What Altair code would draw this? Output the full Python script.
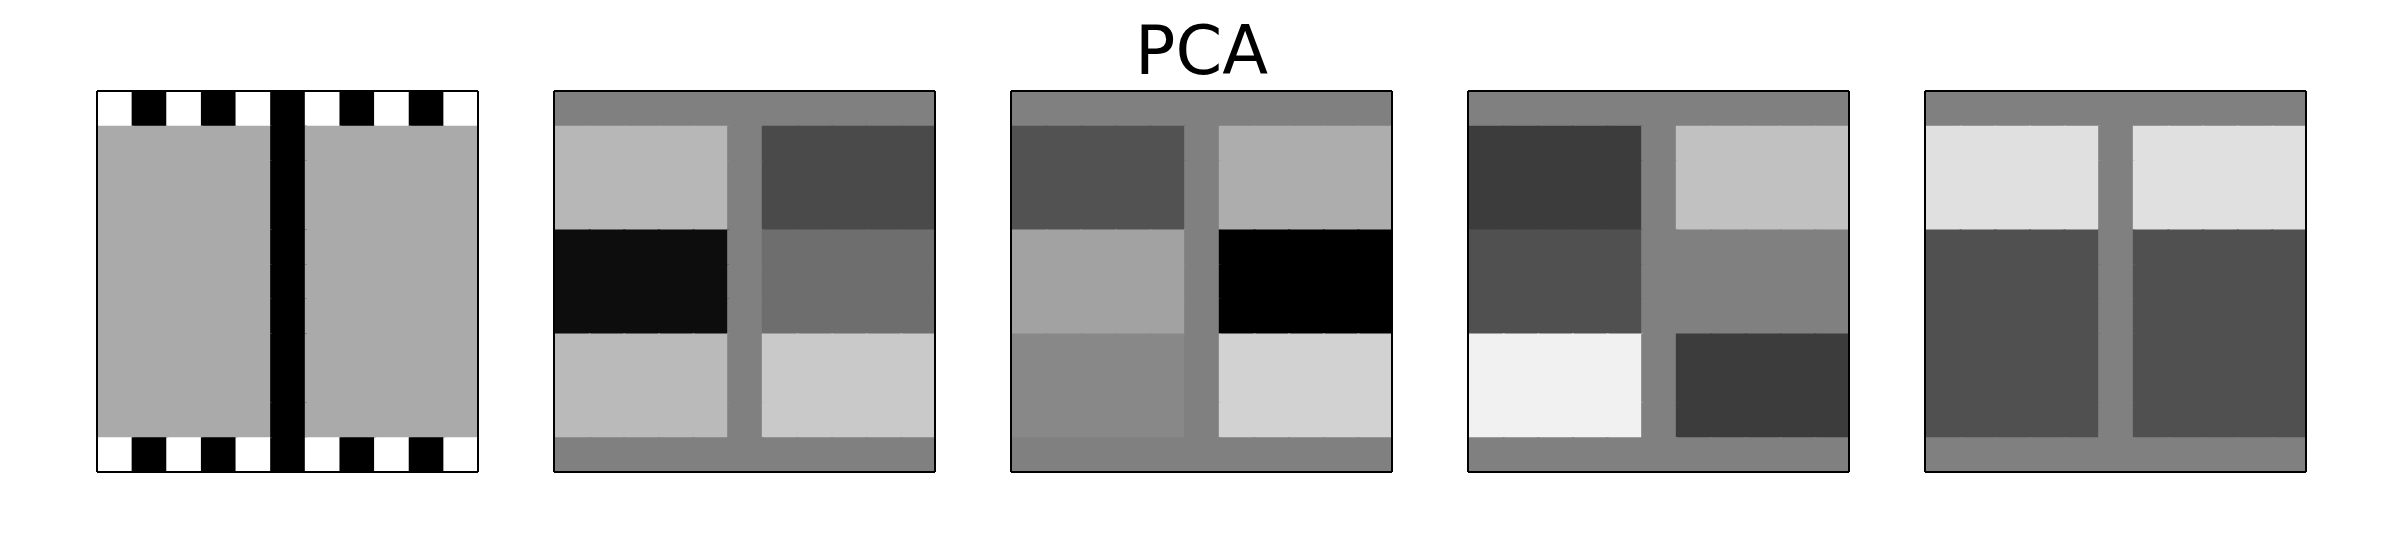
import altair as alt
import pandas as pd

# 11x11 grey-level images (0 = black, 255 = white), rows top to bottom
G = 128
stripe = [255, 0, 255, 0, 255, 0, 255, 0, 255, 0, 255]
mid1 = [170, 170, 170, 170, 170, 0, 170, 170, 170, 170, 170]
img1 = [stripe] + [mid1] * 9 + [stripe]

def blocks(left, right):
    # left/right: three grey levels for row bands 1-3, 4-6, 7-9
    rows = [[G] * 11]
    for band in range(3):
        for _ in range(3):
            rows.append([left[band]] * 5 + [G] + [right[band]] * 5)
    rows.append([G] * 11)
    return rows

img2_left = [183, 13, 186]
img2_right = [74, 110, 201]
img3_left = [82, 162, 136]
img3_right = [173, 0, 210]
img4_left = [60, 80, 241]
img4_right = [193, 128, 60]
img5_left = [224, 80, 80]
img5_right = [224, 80, 80]

images = [
    img1,
    blocks(img2_left, img2_right),
    blocks(img3_left, img3_right),
    blocks(img4_left, img4_right),
    blocks(img5_left, img5_right),
]

SIZE = 381
N = 11
gray = alt.Scale(domain=[0, 255], range=["#000000", "#ffffff"], interpolate="rgb")
xs = alt.Scale(domain=[0, N], nice=False, zero=False)
ys = alt.Scale(domain=[0, N], nice=False, zero=False, reverse=True)

panels = []
for k, img in enumerate(images):
    recs = [
        {"row": r, "col": c, "v": img[r][c]}
        for r in range(N)
        for c in range(N)
    ]
    df = pd.DataFrame(recs)
    cells = (
        alt.Chart(df)
        .transform_calculate(
            col2=f"min(datum.col + 1.06, {N})",
            row2=f"min(datum.row + 1.06, {N})",
        )
        .mark_rect(strokeWidth=0)
        .encode(
            x=alt.X("col:Q", axis=None, scale=xs),
            x2="col2:Q",
            y=alt.Y("row:Q", axis=None, scale=ys),
            y2="row2:Q",
            fill=alt.Fill("v:Q", scale=gray, legend=None),
        )
    )
    frame = alt.Chart(df).mark_rect(filled=False, stroke="black", strokeWidth=1).encode(
        x=alt.value(0), x2=alt.value(SIZE), y=alt.value(0), y2=alt.value(SIZE)
    )
    panels.append(alt.layer(cells, frame).properties(width=SIZE, height=SIZE))

chart = (
    alt.hconcat(*panels, spacing=74)
    .properties(
        title=alt.TitleParams(
            "PCA",
            fontSize=67,
            font="DejaVu Sans",
            fontWeight="normal",
            color="black",
            anchor="middle",
            offset=3,
        ),
        padding={"left": 88, "top": 11, "right": 0, "bottom": 0},
    )
    .configure_view(strokeWidth=0)
)

chart.save("out.html", embed_options={"renderer": "svg", "actions": False})
